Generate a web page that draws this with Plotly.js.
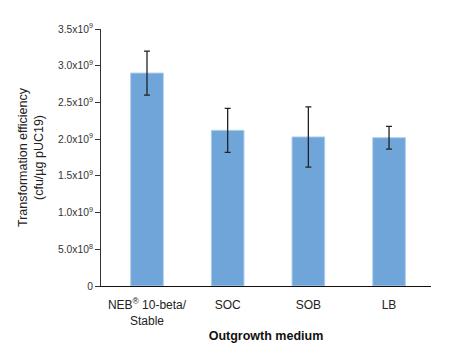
<!DOCTYPE html>
<html>
<head>
<meta charset="utf-8">
<script src="https://cdn.plot.ly/plotly-3.0.1.min.js"></script>
<style>html,body{margin:0;padding:0;background:#fff;}#chart{width:454px;height:356px;}</style>
</head>
<body>
<div id="chart"></div>
<script>
var categories = ["NEB<sup>®</sup> 10-beta/<br>Stable", "SOC", "SOB", "LB"];
var efficiency = [2.90e9, 2.12e9, 2.03e9, 2.02e9];
var errors = [0.30e9, 0.30e9, 0.41e9, 0.155e9];
var yTickVals = [0, 0.5e9, 1.0e9, 1.5e9, 2.0e9, 2.5e9, 3.0e9, 3.5e9];
var yTickText = ["0", "5.0x10<sup>8</sup>", "1.0x10<sup>9</sup>", "1.5x10<sup>9</sup>", "2.0x10<sup>9</sup>", "2.5x10<sup>9</sup>", "3.0x10<sup>9</sup>", "3.5x10<sup>9</sup>"];

var trace = {
  type: 'bar',
  x: [0, 1, 2, 3],
  y: efficiency,
  width: 0.405,
  marker: {color: 'rgb(111,165,216)', line: {color: 'rgb(176,206,238)', width: 1}},
  error_y: {type: 'data', array: errors, visible: true, color: '#222', thickness: 1.3, width: 3}
};

var layout = {
  width: 454, height: 356,
  margin: {l: 101, r: 23, t: 29, b: 70},
  paper_bgcolor: '#fff', plot_bgcolor: '#fff',
  showlegend: false,
  font: {family: 'Liberation Sans, Arial, sans-serif', color: '#222'},
  xaxis: {
    range: [-0.57, 3.52],
    tickvals: [0, 1, 2, 3],
    ticktext: categories,
    ticks: 'outside', ticklen: 8, tickcolor: 'rgba(0,0,0,0)',
    showgrid: false, zeroline: false,
    showline: true, linecolor: '#111', linewidth: 1,
    tickfont: {size: 12, color: '#222'},
    title: {text: '<b>Outgrowth medium</b>', font: {size: 12.5, color: '#111'}, standoff: 4}
  },
  yaxis: {
    range: [0, 3.5e9],
    tickvals: yTickVals,
    ticktext: yTickText,
    ticks: 'outside', ticklen: 5, tickcolor: '#333', tickwidth: 1,
    showgrid: false, zeroline: false,
    showline: true, linecolor: '#333', linewidth: 1,
    tickfont: {size: 10.3, color: '#333'},
    title: {text: 'Transformation efficiency<br>(cfu/µg pUC19)', font: {size: 12.5, color: '#222'}, standoff: 11}
  },
  bargap: 0.5
};

Plotly.newPlot('chart', [trace], layout, {displayModeBar: false, staticPlot: true});
</script>
</body>
</html>
